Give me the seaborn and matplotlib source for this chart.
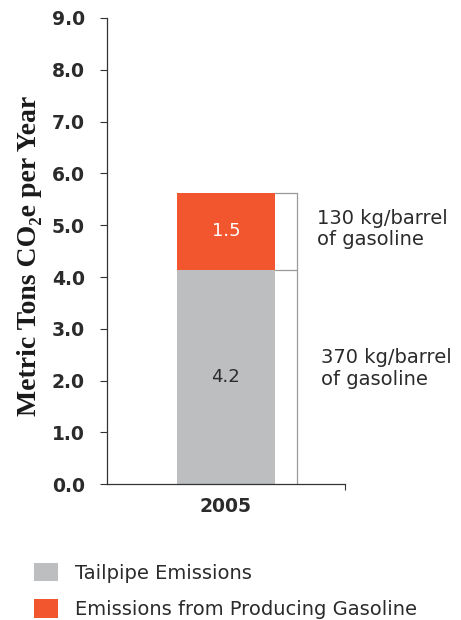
import matplotlib
matplotlib.use("Agg")
import matplotlib.pyplot as plt
import seaborn as sns
import pandas as pd
from matplotlib.patches import Patch

# Data
years = ["2005"]
tailpipe = [4.13]
producing = [1.5]
tailpipe_labels = ["4.2"]
producing_labels = ["1.5"]
notes_producing = ["130 kg/barrel\nof gasoline"]
notes_tailpipe = ["370 kg/barrel\nof gasoline"]
series_names = ["Tailpipe Emissions", "Emissions from Producing Gasoline"]
yticks = [0, 1, 2, 3, 4, 5, 6, 7, 8, 9]

GRAY = "#BCBEC0"
ORANGE = "#F1562F"
TEXT = "#2B2B2B"

sns.set_style("white")
plt.rcParams["font.family"] = ["DejaVu Sans"]

fig = plt.figure(figsize=(4.61, 6.20), dpi=100)
ax = fig.add_axes([0.232, 0.219, 0.516, 0.752])

totals = [t + p for t, p in zip(tailpipe, producing)]
df_tot = pd.DataFrame({"year": years, "value": totals})
df_tail = pd.DataFrame({"year": years, "value": tailpipe})

bw = 0.41
sns.barplot(data=df_tot, x="year", y="value", color=ORANGE, width=bw,
            saturation=1, ax=ax, errorbar=None)
sns.barplot(data=df_tail, x="year", y="value", color=GRAY, width=bw,
            saturation=1, ax=ax, errorbar=None)
for p in ax.patches:
    p.set_edgecolor("none")

ax.set_xlim(-0.5, 0.5)
ax.set_ylim(0, 9)
ax.set_yticks(yticks)
ax.set_yticklabels([f"{v:.1f}" for v in yticks], fontsize=13.5, fontweight="bold", color=TEXT)
ax.set_xticks([0])
ax.set_xticklabels(years, fontsize=13.5, fontweight="bold", color=TEXT)
ax.tick_params(axis="x", length=0, pad=9)
ax.tick_params(axis="y", length=5, width=0.8, color="#333333", direction="out", left=True, pad=11)
ax.set_xticks([0.5], minor=True)
ax.tick_params(axis="x", which="minor", length=4, width=0.8, color="#333333", bottom=True)

for s in ["top", "right"]:
    ax.spines[s].set_visible(False)
for s in ["left", "bottom"]:
    ax.spines[s].set_color("#333333")
    ax.spines[s].set_linewidth(0.9)

ax.set_ylabel("Metric Tons CO\u2082e per Year", family=["Liberation Serif", "DejaVu Serif"],
              fontsize=20, fontweight="bold", color="#1a1a1a")
ax.yaxis.set_label_coords(-0.273, 0.49)
ax.set_xlabel("")

# bar value labels
for i, (t, p) in enumerate(zip(tailpipe, producing)):
    ax.text(i, t / 2, tailpipe_labels[i], ha="center", va="center", fontsize=13, color=TEXT)
    ax.text(i, t + p / 2, producing_labels[i], ha="center", va="center", fontsize=13, color="white")
    # bracket
    bx = i + 0.298
    edge = i + bw / 2
    ax.plot([bx, bx], [0, t + p], color="#999999", lw=0.9, clip_on=False)
    ax.plot([edge, bx], [t + p, t + p], color="#999999", lw=0.9, clip_on=False)
    ax.plot([edge, bx], [t, t], color="#999999", lw=0.9, clip_on=False)
    ax.text(i + 0.385, t + p / 2 + 0.04, notes_producing[i], ha="left", va="center",
            fontsize=14, color=TEXT, linespacing=1.15)
    ax.text(i + 0.40, t / 2 + 0.17, notes_tailpipe[i], ha="left", va="center",
            fontsize=14, color=TEXT, linespacing=1.15)

handles = [Patch(facecolor=GRAY, edgecolor="none"), Patch(facecolor=ORANGE, edgecolor="none")]
fig.legend(handles, series_names, loc="upper left", bbox_to_anchor=(0.052, 0.108),
           frameon=False, fontsize=14, handlelength=1.25, handleheight=1.1,
           handletextpad=0.9, labelspacing=0.85, labelcolor=TEXT, borderpad=0)

fig.savefig("out.png", dpi=100)
